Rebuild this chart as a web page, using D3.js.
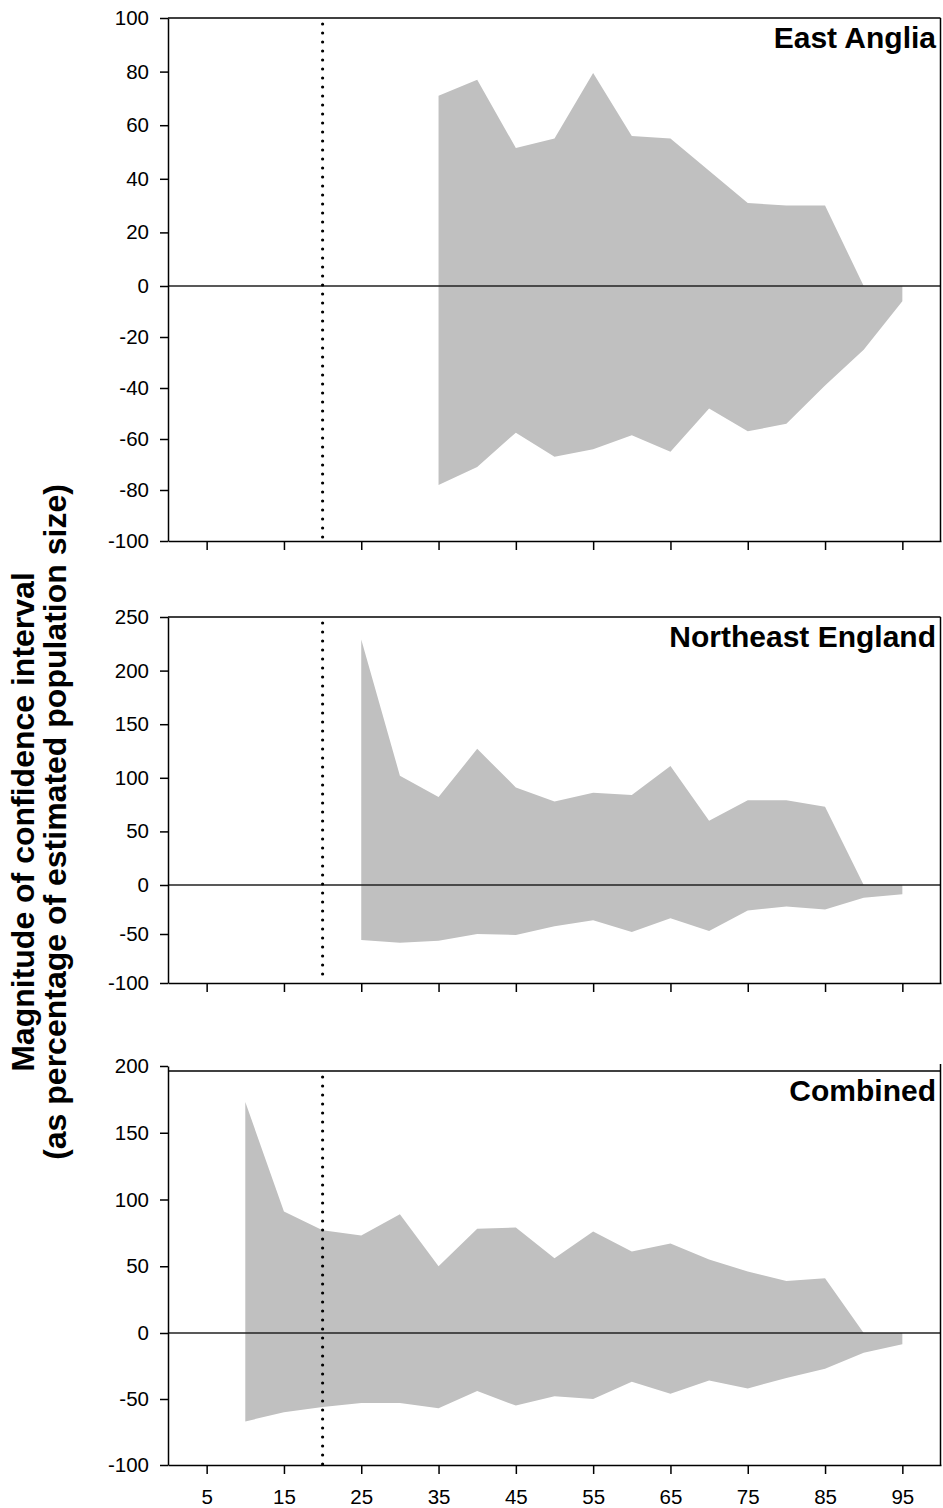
<!DOCTYPE html>
<html>
<head>
<meta charset="utf-8">
<script src="https://cdn.jsdelivr.net/npm/d3@7"></script>
<style>
  body { margin: 0; background: #fff; }
  svg text { font-family: "Liberation Sans", Arial, Helvetica, sans-serif; }
</style>
</head>
<body>
<svg id="chart" width="943" height="1508"></svg>
<script>
// sample size (x) with upper / lower CI bound, per region
const eaSizes = [35, 40, 45, 50, 55, 60, 65, 70, 75, 80, 85, 90, 95];
const eaUpper = [71, 77, 51.5, 55, 79.5, 56, 55, 43, 31, 30, 30, 0, 0];
const eaLower = [-78, -71, -57.5, -67, -64, -58.5, -65, -48, -57, -54, -39, -25, -6];

const neSizes = [25, 30, 35, 40, 45, 50, 55, 60, 65, 70, 75, 80, 85, 90, 95];
const neUpper = [229, 102, 82, 127, 91, 78, 86, 84, 111, 60, 79, 79, 73, 0, 0];
const neLower = [-56, -59, -57, -50, -51, -42, -36, -48, -34, -47, -26, -22, -25, -13, -9.5];

const coSizes = [10, 15, 20, 25, 30, 35, 40, 45, 50, 55, 60, 65, 70, 75, 80, 85, 90, 95];
const coUpper = [173, 91, 77, 73, 89, 50, 78, 79, 56, 76, 61, 67, 55, 46, 39, 41, 0, 0];
const coLower = [-67, -60, -56, -53, -53, -57, -44, -55, -48, -50, -37, -46, -36, -42, -34, -27, -15, -8.5];

const xTicks = [5, 15, 25, 35, 45, 55, 65, 75, 85, 95];
const eaTicks = [-100, -80, -60, -40, -20, 0, 20, 40, 60, 80, 100];
const neTicks = [-100, -50, 0, 50, 100, 150, 200, 250];
const coTicks = [-100, -50, 0, 50, 100, 150, 200];
const cutoff = 20;

const svg = d3.select("#chart");
const x = d3.scaleLinear().domain([0, 100]).range([168, 941]);
const right = 940.5;

const panels = [
    { title: "East Anglia", sizes: eaSizes, upper: eaUpper, lower: eaLower, ticks: eaTicks,
      y: d3.scaleLinear().domain([-100, 0, 100]).range([541, 286, 18]), topShift: 0 },
    { title: "Northeast England", sizes: neSizes, upper: neUpper, lower: neLower, ticks: neTicks,
      y: d3.scaleLinear().domain([-100, 0, 250]).range([983, 885, 617]), topShift: 0 },
    { title: "Combined", sizes: coSizes, upper: coUpper, lower: coLower, ticks: coTicks,
      y: d3.scaleLinear().domain([-100, 0, 200]).range([1465, 1333, 1066]), topShift: 5 }
];

panels.forEach((p, pi) => {
    const y = p.y;
    const yMin = d3.min(p.ticks), yMax = d3.max(p.ticks);
    const g = svg.append("g");
    const rows = p.sizes.map((s, i) => ({ s, hi: p.upper[i], lo: p.lower[i] }));

    // shaded CI band
    const area = d3.area()
        .x(d => x(d.s))
        .y0(d => y(d.lo))
        .y1(d => y(d.hi));
    g.append("path")
        .datum(rows)
        .attr("d", area)
        .attr("fill", "#c0c0c0");

    // zero line
    g.append("line")
        .attr("x1", x(0)).attr("x2", right)
        .attr("y1", y(0)).attr("y2", y(0))
        .attr("stroke", "#222").attr("stroke-width", 1.3);

    // dotted cut-off line
    g.append("line")
        .attr("x1", x(cutoff)).attr("x2", x(cutoff))
        .attr("y1", y(yMax) + 6 + p.topShift).attr("y2", y(yMin))
        .attr("stroke", "#000")
        .attr("stroke-width", 3.2)
        .attr("stroke-linecap", "round")
        .attr("stroke-dasharray", "0 9");

    // frame: top and right
    g.append("line")
        .attr("x1", x(0)).attr("x2", right)
        .attr("y1", y(yMax) + p.topShift).attr("y2", y(yMax) + p.topShift)
        .attr("stroke", "#000").attr("stroke-width", 1.5);
    g.append("line")
        .attr("x1", right).attr("x2", right)
        .attr("y1", y(yMax) - (p.topShift ? 2 : 0)).attr("y2", y(yMin))
        .attr("stroke", "#000").attr("stroke-width", 1.5);

    const yAxis = g.append("g")
        .attr("transform", `translate(${x(0)},0)`)
        .call(d3.axisLeft(y).tickValues(p.ticks).tickSize(8).tickSizeOuter(0)
            .tickPadding(11).tickFormat(d => String(d)));

    const last = pi === panels.length - 1;
    const xAxis = g.append("g")
        .attr("transform", `translate(0,${y(yMin)})`)
        .call(d3.axisBottom(x).tickValues(xTicks).tickSize(9).tickSizeOuter(0)
            .tickPadding(15).tickFormat(d => last ? String(d) : ""));

    [yAxis, xAxis].forEach(ax => {
        ax.attr("font-family", null).attr("font-size", null);
        ax.selectAll("path, line").attr("stroke", "#000").attr("stroke-width", 1.5);
        ax.selectAll("text").attr("fill", "#000").style("font-size", "20.5px");
    });

    g.append("text")
        .attr("x", 936)
        .attr("y", y(yMax) + 30 + p.topShift)
        .attr("text-anchor", "end")
        .style("font-size", "30px")
        .style("font-weight", "bold")
        .text(p.title);
});

// shared y title
const yTitle = ["Magnitude of confidence interval", "(as percentage of estimated population size)"];
svg.selectAll(".ytitle")
    .data(yTitle)
    .join("text")
    .attr("class", "ytitle")
    .attr("transform", (d, i) => `translate(${34 + i * 32},822) rotate(-90)`)
    .attr("text-anchor", "middle")
    .style("font-size", "32px")
    .style("font-weight", "bold")
    .text(d => d);
</script>
</body>
</html>
